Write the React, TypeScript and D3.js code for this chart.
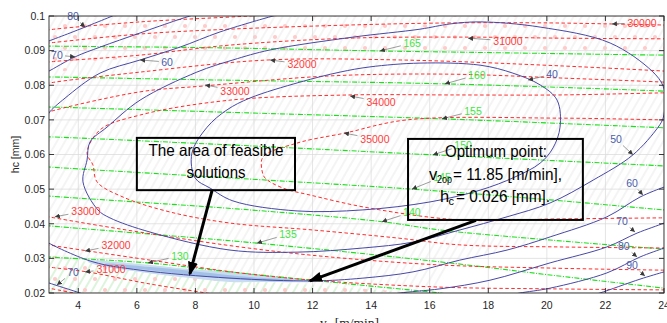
import React from 'react';
import * as d3 from 'd3';

type P = [number, number];

const W = 667, H = 323;
const M = { left: 49, right: 664, top: 16, bottom: 293 };

const xDomain: P = [3, 24];
const yDomain: P = [0.02, 0.1];
const xTicks = [4, 6, 8, 10, 12, 14, 16, 18, 20, 22, 24];
const yTicks = [0.02, 0.03, 0.04, 0.05, 0.06, 0.07, 0.08, 0.09, 0.1];
const yTickLabels = ['0.02', '0.03', '0.04', '0.05', '0.06', '0.07', '0.08', '0.09', '0.1'];

// ---- blue contours (closed loops) ----
const blue40: P[] = [[7.88,0.0604],[8.40,0.0679],[9.08,0.0729],[9.86,0.0763],[11.57,0.0809],[12.94,0.0838],[13.96,0.0853],[15.67,0.0864],[17.72,0.0858],[18.84,0.0835],[19.77,0.0801],[20.35,0.0757],[20.45,0.0679],[20.21,0.0619],[19.77,0.0575],[18.91,0.0535],[17.72,0.0497],[16.01,0.0463],[13.72,0.0440],[11.47,0.0437],[9.28,0.0466],[8.50,0.0503],[7.99,0.0532]];
const blue50: P[] = [[4.30,0.0584],[4.40,0.0636],[4.98,0.0679],[6.11,0.0757],[8.05,0.0838],[9.28,0.0873],[10.55,0.0902],[13.38,0.0939],[15.67,0.0962],[16.69,0.0977],[17.72,0.0983],[19.77,0.0968],[22.16,0.0922],[23.59,0.0841],[23.97,0.0798],[24.04,0.0757],[23.97,0.0705],[23.80,0.0679],[22.94,0.0599],[21.58,0.0526],[20.11,0.0460],[18.64,0.0420],[17.03,0.0382],[15.43,0.0347],[13.72,0.0330],[11.47,0.0318],[9.18,0.0324],[6.45,0.0376],[5.08,0.0417],[4.67,0.0440],[4.16,0.0521]];
// ---- blue contours (open) ----
const blue60Top: P[] = [[2.9,0.0700],[3,0.0720],[3.55,0.0763],[4.74,0.0835],[6.11,0.0873],[7.47,0.0910],[8.84,0.0954],[10.65,0.1],[10.9,0.1005]];
const blue60Bottom: P[] = [[2.9,0.0350],[3,0.0344],[4.50,0.0290],[6.11,0.0266],[9.18,0.0243],[12.01,0.0235],[13.72,0.0243],[15.43,0.0261],[17.03,0.0295],[18.64,0.0324],[20.11,0.0362],[22.05,0.0420],[23.18,0.0477],[24,0.0506],[24.2,0.0512]];
const blue70Top: P[] = [[2.9,0.0837],[3,0.0841],[3.89,0.0882],[4.74,0.0910],[6.11,0.0951],[7.37,0.0988],[7.81,0.1],[8,0.1005]];
const blue70BottomLeft: P[] = [[2.9,0.0232],[3,0.0229],[4.06,0.0200],[4.3,0.0193]];
const blue70BottomRight: P[] = [[14.7,0.0195],[14.99,0.0200],[16.35,0.0212],[18.06,0.0237],[20.11,0.0287],[22.05,0.0333],[23.08,0.0373],[24,0.0402],[24.2,0.041]];
const blue80Top: P[] = [[2.9,0.0925],[3,0.0928],[3.72,0.0951],[4.23,0.0968],[5.08,0.0997],[5.3,0.1005]];
const blue80Bottom: P[] = [[18.8,0.0195],[19.08,0.0200],[20.11,0.0214],[22.05,0.0258],[23.18,0.0304],[24,0.0330],[24.2,0.0337]];
const blue90: P[] = [[21.5,0.0193],[21.81,0.0200],[23.18,0.0240],[24,0.0261],[24.2,0.0266]];

// ---- red contours ----
const red29: P[] = [[2.9,0.0958],[3,0.0960],[6.11,0.0983],[9.18,0.0997],[9.86,0.1],[10.2,0.1002]];
const red30Top: P[] = [[2.9,0.0921],[3,0.0922],[6.11,0.0948],[9.18,0.0962],[13.28,0.0974],[16.69,0.0980],[20.11,0.0980],[22.22,0.0977],[24,0.0974],[24.2,0.0974]];
const red30Bottom: P[] = [[2.9,0.0216],[3,0.0214],[4.40,0.0191]];
const red31Top: P[] = [[2.9,0.0865],[3,0.0867],[6.11,0.0887],[9.18,0.0916],[13.28,0.0936],[17.31,0.0939],[20.45,0.0936],[24,0.0934],[24.2,0.0934]];
const red31Bottom: P[] = [[2.9,0.0277],[3,0.0275],[4.30,0.0261],[6.45,0.0226],[8.84,0.0194]];
const red32Top: P[] = [[2.9,0.0803],[3,0.0806],[6.11,0.0838],[10.48,0.0873],[14.99,0.0873],[20.45,0.0856],[24,0.0841],[24.2,0.0840]];
const red32Bottom: P[] = [[2.9,0.0341],[3,0.0339],[6.45,0.0295],[9.52,0.0258],[12.01,0.0237],[16.35,0.0217],[20.11,0.0212],[24,0.0209],[24.2,0.0209]];
const red33Top: P[] = [[2.9,0.0719],[3,0.0723],[6.11,0.0781],[8.29,0.0798],[12.60,0.0827],[16.69,0.0832],[20.45,0.0821],[24,0.0809],[24.2,0.0808]];
const red33Bottom: P[] = [[2.9,0.0422],[3,0.0420],[5.42,0.0385],[9.52,0.0333],[12.60,0.0304],[16.35,0.0281],[20.11,0.0272],[24,0.0266],[24.2,0.0266]];
const red34: P[] = [[24.2,0.0778],[24,0.0778],[20.45,0.0772],[16.69,0.0772],[13.28,0.0772],[9.18,0.0757],[6.11,0.0714],[4.74,0.0671],[4.30,0.0604],[4.50,0.0570],[4.64,0.0521],[5.53,0.0477],[7.13,0.0434],[9.18,0.0402],[12.01,0.0382],[14.88,0.0359],[17.03,0.0339],[20.45,0.0333],[24,0.0330],[24.2,0.0330]];
const red35: P[] = [[24.2,0.0700],[24,0.0700],[20.45,0.0705],[15.22,0.0700],[13.11,0.0662],[11.47,0.0633],[10.31,0.0593],[10.27,0.0555],[10.38,0.0532],[10.99,0.0503],[11.91,0.0483],[13.96,0.0445],[17.03,0.0411],[20.45,0.0414],[24,0.0417],[24.2,0.0417]];

// ---- green contours ----
const green165: P[] = [[2.9,0.0913],[3,0.0913],[8.84,0.0908],[14.30,0.0899],[16.69,0.0896],[24,0.0887],[24.2,0.0887]];
const green160: P[] = [[2.9,0.0824],[3,0.0824],[8.84,0.0815],[16.52,0.0804],[24,0.0783],[24.2,0.0782]];
const green155: P[] = [[2.9,0.0737],[3,0.0737],[9.86,0.0720],[16.42,0.0703],[24,0.0677],[24.2,0.0676]];
const green150: P[] = [[2.9,0.0651],[3,0.0651],[9.86,0.0625],[16.11,0.0599],[24,0.0567],[24.2,0.0566]];
const green145: P[] = [[2.9,0.0565],[3,0.0564],[9.86,0.0529],[15.39,0.0500],[20.11,0.0469],[24,0.0440],[24.2,0.0439]];
const green140: P[] = [[2.9,0.0481],[3,0.0480],[9.86,0.0440],[14.37,0.0406],[16.35,0.0382],[20.11,0.0353],[24,0.0327],[24.2,0.0326]];
const green135: P[] = [[2.9,0.0395],[3,0.0394],[10.10,0.0344],[16.35,0.0290],[20.11,0.0252],[24,0.0214],[24.2,0.0212]];
const green130: P[] = [[2.9,0.0305],[3,0.0304],[6.38,0.0287],[9.18,0.0261],[13.62,0.0223],[16.35,0.0200],[16.6,0.0197]];

// ---- contour labels ----
const blueLabelText = ['80', '70', '60', '40', '50', '60', '70', '80', '90', '70'];
const blueLabelPos: P[] = [[3.82,0.1000],[3.27,0.0887],[7.03,0.0867],[20.18,0.0832],[22.36,0.0645],[22.91,0.0518],[22.57,0.0408],[22.63,0.0336],[22.91,0.0281],[3.82,0.0261]];
const blueLabelTip: P[] = [[4.23,0.0968],[3.89,0.0882],[6.11,0.0873],[19.36,0.0815],[22.94,0.0599],[23.28,0.0483],[23.01,0.0376],[23.08,0.0304],[23.35,0.0249],[3.27,0.0223]];

const redLabelText = ['30000', '31000', '32000', '33000', '34000', '35000', '33000', '32000', '31000'];
const redLabelPos: P[] = [[23.25,0.0980],[18.67,0.0928],[11.64,0.0861],[9.35,0.0784],[14.34,0.0752],[14.13,0.0645],[4.26,0.0437],[5.29,0.0339],[5.12,0.0269]];
const redLabelTip: P[] = [[22.22,0.0977],[17.31,0.0936],[10.55,0.0873],[8.33,0.0801],[13.28,0.0769],[13.07,0.0662],[3.20,0.0420],[4.23,0.0321],[4.23,0.0261]];

const greenLabelText = ['165', '160', '155', '150', '145', '140', '135', '130'];
const greenLabelPos: P[] = [[15.40,0.0922],[17.61,0.0830],[17.48,0.0726],[17.14,0.0627],[16.42,0.0535],[15.39,0.0434],[11.16,0.0370],[7.47,0.0307]];
const greenLabelTip: P[] = [[14.30,0.0899],[16.52,0.0804],[16.42,0.0703],[16.11,0.0599],[15.39,0.0500],[14.37,0.0406],[10.10,0.0344],[6.38,0.0287]];

// ---- feasible band ----
const bandOuter: P[] = [[4.33,0.0293],[6.11,0.0284],[7.81,0.0269],[9.18,0.0261],[10.55,0.0249],[12.01,0.0237],[12.15,0.0234],[12.01,0.0232],[10.55,0.0232],[9.18,0.0232],[7.81,0.0243],[6.11,0.0261],[4.74,0.0278],[4.33,0.0290]];
const bandInner: P[] = [[4.91,0.0284],[6.45,0.0275],[8.16,0.0261],[9.86,0.0246],[11.40,0.0237],[11.40,0.0235],[9.86,0.0237],[8.16,0.0249],[6.45,0.0266],[4.91,0.0281]];

// ---- shaded zones ----
const pinkZoneTop: P[] = [[3,0.1],[24,0.1],[24,0.0890],[14.99,0.0896],[8.16,0.0896],[5.08,0.0873],[3,0.0830]];
const lowerZone: P[] = [[3,0.0310],[4.74,0.0284],[6.45,0.0261],[9.52,0.0237],[12.01,0.0223],[15.67,0.0200],[3,0.0200]];
const plainZone: P[] = [[24,0.0506],[23.18,0.0477],[22.05,0.0420],[20.11,0.0362],[18.64,0.0324],[17.03,0.0295],[15.99,0.0200],[24,0.0200]];

// ---- annotations ----
const feasibleBox: [P, P] = [[6.0, 0.0648], [11.4, 0.0497]];
const optimumBox: [P, P] = [[15.26, 0.0645], [21.23, 0.0411]];
const feasibleArrow: [P, P] = [[8.57, 0.0497], [7.81, 0.0255]];
const optimumArrow: [P, P] = [[17.58, 0.0410], [11.91, 0.0235]];

const BLUE = '#4848a6';
const BLUE_TXT = '#4a5cab';
const RED = '#ff2b2b';
const RED_TXT = '#ff3c3c';
const GREEN = '#19e019';
const GREEN_TXT = '#3fe63f';
const FONT = '"Liberation Sans", Arial, Helvetica, sans-serif';

export default function App() {
  const x = d3.scaleLinear().domain(xDomain).range([M.left, M.right]);
  const y = d3.scaleLinear().domain(yDomain).range([M.bottom, M.top]);
  const smooth = d3.line<P>().x(d => x(d[0])).y(d => y(d[1])).curve(d3.curveCatmullRom.alpha(0.5));
  const loop = d3.line<P>().x(d => x(d[0])).y(d => y(d[1])).curve(d3.curveCatmullRomClosed.alpha(0.5));
  const poly = (pts: P[]) => (d3.line<P>().x(d => x(d[0])).y(d => y(d[1]))(pts) || '') + 'Z';

  const blueOpen = [blue60Top, blue60Bottom, blue70Top, blue70BottomLeft, blue70BottomRight, blue80Top, blue80Bottom, blue90];
  const blueClosed = [blue40, blue50];
  const reds = [red29, red30Top, red30Bottom, red31Top, red31Bottom, red32Top, red32Bottom, red33Top, red33Bottom, red34, red35];
  const greens = [green165, green160, green155, green150, green145, green140, green135, green130];

  const labelArrow = (text: string, pos: P, tip: P) => {
    const cx = x(pos[0]), cy = y(pos[1]);
    const tx = x(tip[0]), ty = y(tip[1]);
    const hw = text.length * 3.1 + 2, hh = 6.5;
    const dx = tx - cx, dy = ty - cy;
    const s = Math.min(dx !== 0 ? hw / Math.abs(dx) : Infinity, dy !== 0 ? hh / Math.abs(dy) : Infinity);
    return { cx, cy, sx: cx + dx * s, sy: cy + dy * s, tx, ty };
  };

  const renderLabels = (texts: string[], pos: P[], tips: P[], color: string, key: string) =>
    texts.map((t, i) => {
      const a = labelArrow(t, pos[i], tips[i]);
      return (
        <g key={key + i}>
          <line x1={a.sx} y1={a.sy} x2={a.tx} y2={a.ty} stroke="#5a5a5a" strokeWidth={0.6} markerEnd="url(#smallArrow)" />
          <text x={a.cx} y={a.cy + 3.8} textAnchor="middle" fontSize={10.5} fontFamily={FONT} fill={color}>{t}</text>
        </g>
      );
    });

  const fb = { x0: x(feasibleBox[0][0]), y0: y(feasibleBox[0][1]), x1: x(feasibleBox[1][0]), y1: y(feasibleBox[1][1]) };
  const ob = { x0: x(optimumBox[0][0]), y0: y(optimumBox[0][1]), x1: x(optimumBox[1][0]), y1: y(optimumBox[1][1]) };
  const fcx = (fb.x0 + fb.x1) / 2;

  return (
    <svg width={W} height={H} style={{ position: 'absolute', left: 0, top: 0, background: '#fff' }} xmlns="http://www.w3.org/2000/svg">
      <defs>
        <clipPath id="plotClip">
          <rect x={M.left} y={M.top} width={M.right - M.left} height={M.bottom - M.top} />
        </clipPath>
        <pattern id="grayHatch" width={7} height={7} patternUnits="userSpaceOnUse" patternTransform="rotate(30)">
          <line x1={1} y1={0} x2={1} y2={7} stroke="#ececec" strokeWidth={1.2} />
        </pattern>
        <pattern id="greenHatch" width={7} height={7} patternUnits="userSpaceOnUse" patternTransform="rotate(30)">
          <line x1={1} y1={0} x2={1} y2={7} stroke="#cdf0cd" strokeWidth={1.4} />
        </pattern>
        <pattern id="pinkDots" width={20} height={22} patternUnits="userSpaceOnUse">
          <circle cx={5} cy={4} r={2.1} fill="#ffcaca" />
          <circle cx={15} cy={15} r={2.1} fill="#ffcaca" />
        </pattern>
        <marker id="smallArrow" markerWidth={5} markerHeight={5} refX={5} refY={2.5} orient="auto" markerUnits="userSpaceOnUse">
          <path d="M0,0 L5,2.5 L0,5 z" fill="#3a3a3a" />
        </marker>
        <marker id="bigArrow" markerWidth={14} markerHeight={10} refX={12} refY={5} orient="auto" markerUnits="userSpaceOnUse">
          <path d="M0,0 L14,5 L0,10 z" fill="#000" />
        </marker>
      </defs>

      <rect x={0} y={0} width={W} height={H} fill="#fff" />

      <g clipPath="url(#plotClip)">
        <rect x={M.left} y={M.top} width={M.right - M.left} height={M.bottom - M.top} fill="url(#grayHatch)" />
        <path d={poly(plainZone)} fill="#fff" />
        <path d={poly(pinkZoneTop)} fill="url(#pinkDots)" />
        <path d={poly(lowerZone)} fill="#fff" />
        <path d={poly(lowerZone)} fill="url(#greenHatch)" />
        <path d={poly(lowerZone)} fill="url(#pinkDots)" />

        {xTicks.map(t => (
          <line key={'gx' + t} x1={x(t)} x2={x(t)} y1={M.top} y2={M.bottom} stroke="#d9d9d9" strokeWidth={0.7} />
        ))}
        {yTicks.map(t => (
          <line key={'gy' + t} x1={M.left} x2={M.right} y1={y(t)} y2={y(t)} stroke="#d9d9d9" strokeWidth={0.7} />
        ))}

        <path d={loop(bandOuter) || ''} fill="#c9dcf0" />
        <path d={loop(bandInner) || ''} fill="#a3c1e6" />

        {greens.map((g, i) => (
          <path key={'g' + i} d={smooth(g) || ''} fill="none" stroke={GREEN} strokeWidth={1.1} strokeDasharray="5,1.5,1,1.5" />
        ))}
        {reds.map((r, i) => (
          <path key={'r' + i} d={smooth(r) || ''} fill="none" stroke={RED} strokeWidth={1} strokeDasharray="3.5,2.5" />
        ))}
        {blueOpen.map((b, i) => (
          <path key={'bo' + i} d={smooth(b) || ''} fill="none" stroke={BLUE} strokeWidth={1} />
        ))}
        {blueClosed.map((b, i) => (
          <path key={'bc' + i} d={loop(b) || ''} fill="none" stroke={BLUE} strokeWidth={1} />
        ))}
      </g>

      {renderLabels(greenLabelText, greenLabelPos, greenLabelTip, GREEN_TXT, 'gl')}
      {renderLabels(redLabelText, redLabelPos, redLabelTip, RED_TXT, 'rl')}
      {renderLabels(blueLabelText, blueLabelPos, blueLabelTip, BLUE_TXT, 'bl')}

      {/* axes box */}
      <rect x={M.left} y={M.top} width={M.right - M.left} height={M.bottom - M.top} fill="none" stroke="#262626" strokeWidth={0.9} />
      {xTicks.map(t => (
        <g key={'tx' + t}>
          <line x1={x(t)} x2={x(t)} y1={M.bottom} y2={M.bottom - 5} stroke="#262626" strokeWidth={0.9} />
          <line x1={x(t)} x2={x(t)} y1={M.top} y2={M.top + 5} stroke="#262626" strokeWidth={0.9} />
          <text x={x(t)} y={M.bottom + 16} textAnchor="middle" fontSize={10.5} fontFamily={FONT} fill="#262626">{t}</text>
        </g>
      ))}
      {yTicks.map((t, i) => (
        <g key={'ty' + t}>
          <line x1={M.left} x2={M.left + 5} y1={y(t)} y2={y(t)} stroke="#262626" strokeWidth={0.9} />
          <line x1={M.right} x2={M.right - 5} y1={y(t)} y2={y(t)} stroke="#262626" strokeWidth={0.9} />
          <text x={M.left - 4} y={y(t) + 3.8} textAnchor="end" fontSize={10.5} fontFamily={FONT} fill="#262626">{yTickLabels[i]}</text>
        </g>
      ))}

      <text transform={`translate(19,${(M.top + M.bottom) / 2}) rotate(-90)`} textAnchor="middle" fontSize={10.5} fontFamily={FONT} fill="#262626">hc [mm]</text>
      <text x={(M.left + M.right) / 2 - 7} y={327} textAnchor="middle" fontSize={13.5} fontFamily='"Liberation Serif", "Times New Roman", serif' fill="#262626">
        v<tspan fontSize={9.5} dy={2.5}>2</tspan><tspan dy={-2.5}> [m/min]</tspan>
      </text>

      {/* annotation: feasible area */}
      <rect x={fb.x0} y={fb.y0} width={fb.x1 - fb.x0} height={fb.y1 - fb.y0} fill="none" stroke="#000" strokeWidth={2} />
      <text x={fcx} y={fb.y0 + 18.5} textAnchor="middle" fontSize={16.5} fontFamily={FONT} fill="#000" textLength={135} lengthAdjust="spacingAndGlyphs">The area of feasible</text>
      <text x={fcx} y={fb.y0 + 40} textAnchor="middle" fontSize={16.5} fontFamily={FONT} fill="#000" textLength={59} lengthAdjust="spacingAndGlyphs">solutions</text>
      <line x1={x(feasibleArrow[0][0])} y1={y(feasibleArrow[0][1])} x2={x(feasibleArrow[1][0])} y2={y(feasibleArrow[1][1])} stroke="#000" strokeWidth={3} markerEnd="url(#bigArrow)" />

      {/* annotation: optimum point */}
      <rect x={ob.x0} y={ob.y0} width={ob.x1 - ob.x0} height={ob.y1 - ob.y0} fill="none" stroke="#000" strokeWidth={2} />
      <text x={ob.x0 + 37} y={ob.y0 + 18} fontSize={16.5} fontFamily={FONT} fill="#000" textLength={102} lengthAdjust="spacingAndGlyphs">Optimum point:</text>
      <text x={ob.x0 + 21} y={ob.y0 + 41} fontSize={16.5} fontFamily={FONT} fill="#000">v</text>
      <text x={ob.x0 + 29} y={ob.y0 + 44} fontSize={11} fontFamily={FONT} fill="#000" textLength={15} lengthAdjust="spacingAndGlyphs">2op</text>
      <text x={ob.x0 + 45} y={ob.y0 + 41} fontSize={16.5} fontFamily={FONT} fill="#000" textLength={109} lengthAdjust="spacingAndGlyphs">= 11.85 [m/min],</text>
      <text x={ob.x0 + 32} y={ob.y0 + 63} fontSize={16.5} fontFamily={FONT} fill="#000">h</text>
      <text x={ob.x0 + 40.5} y={ob.y0 + 66} fontSize={11} fontFamily={FONT} fill="#000">c</text>
      <text x={ob.x0 + 48} y={ob.y0 + 63} fontSize={16.5} fontFamily={FONT} fill="#000" textLength={94} lengthAdjust="spacingAndGlyphs">= 0.026 [mm].</text>
      <line x1={x(optimumArrow[0][0])} y1={y(optimumArrow[0][1])} x2={x(optimumArrow[1][0])} y2={y(optimumArrow[1][1])} stroke="#000" strokeWidth={3} markerEnd="url(#bigArrow)" />
    </svg>
  );
}
